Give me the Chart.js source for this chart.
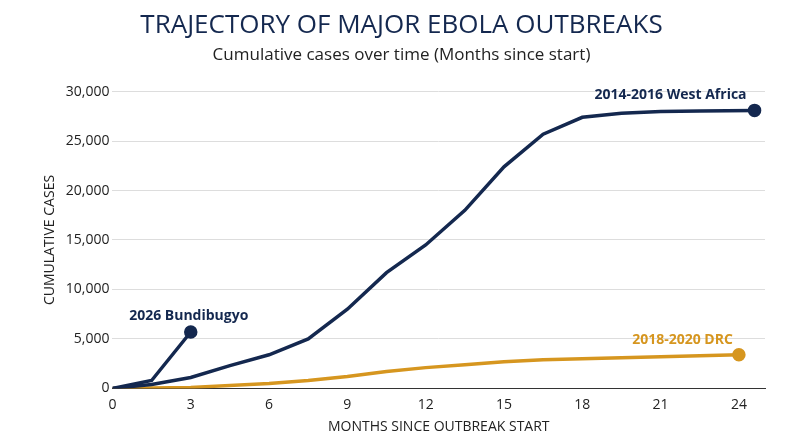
<!DOCTYPE html>
<html><head><meta charset="utf-8">
<script src="https://cdn.jsdelivr.net/npm/chart.js@4/dist/chart.umd.min.js"></script>
<style>html,body{margin:0;padding:0;background:#fff}#w{width:800px;height:447px}</style>
</head><body><div id="w"><canvas id="c" width="800" height="447"></canvas></div>
<script>
const westAfricaMonths=[0,1.5,3,4.5,6,7.5,9,10.5,12,13.5,15,16.5,18,19.5,21,22.5,24.6];
const westAfricaCases=[0,400,1100,2300,3400,5000,8000,11700,14500,18000,22400,25700,27400,27800,28000,28050,28100];
const bundibugyoMonths=[0,1.5,3];
const bundibugyoCases=[0,800,5700];
const drcMonths=[0,3,6,7.5,9,10.5,12,13.5,15,16.5,18,21,24];
const drcCases=[0,100,500,800,1200,1700,2100,2400,2700,2900,3000,3200,3400];
const xTicks=[0,3,6,9,12,15,18,21,24];
const NAVY='#14284f',GOLD='#d6961f';
const pts=(xs,ys)=>xs.map((x,i)=>({x,y:ys[i]}));
const lastOnly=n=>Array.from({length:n},(_,i)=>i===n-1?5:0);
const labels=[
 {ds:0,text:'2014-2016 West Africa',color:NAVY,dx:-8,dy:-15,align:'right'},
 {ds:1,text:'2026 Bundibugyo',color:NAVY,dx:-2,dy:-16,align:'center'},
 {ds:2,text:'2018-2020 DRC',color:GOLD,dx:-6,dy:-15,align:'right'}];
const labelPlugin={id:'lbl',afterDatasetsDraw(ch){const c=ch.ctx;c.save();c.font='bold 14px "Open Sans", sans-serif';c.textBaseline='middle';
 labels.forEach(l=>{const d=ch.data.datasets[l.ds].data;const p=d[d.length-1];
 const x=ch.scales.x.getPixelForValue(p.x),y=ch.scales.y.getPixelForValue(p.y);c.fillStyle=l.color;c.textAlign=l.align;c.fillText(l.text,x+l.dx,y+l.dy);});c.restore();}};
new Chart(document.getElementById('c'),{type:'line',
 data:{datasets:[
  {data:pts(westAfricaMonths,westAfricaCases),borderColor:NAVY,backgroundColor:NAVY,borderWidth:3.5,pointRadius:lastOnly(westAfricaMonths.length),pointHoverRadius:0,tension:0},
  {data:pts(bundibugyoMonths,bundibugyoCases),borderColor:NAVY,backgroundColor:NAVY,borderWidth:3.5,pointRadius:lastOnly(bundibugyoMonths.length),tension:0},
  {data:pts(drcMonths,drcCases),borderColor:GOLD,backgroundColor:GOLD,borderWidth:3.5,pointRadius:lastOnly(drcMonths.length),tension:0}]},
 options:{responsive:false,animation:false,devicePixelRatio:1,
  layout:{padding:{left:38,right:35,top:0,bottom:8}},
  plugins:{legend:{display:false},tooltip:{enabled:false},
   title:{display:true,text:'TRAJECTORY OF MAJOR EBOLA OUTBREAKS',color:NAVY,font:{family:'"Open Sans", sans-serif',size:26,weight:'normal'},padding:{top:10,bottom:2}},
   subtitle:{display:true,text:'Cumulative cases over time (Months since start)',color:'#222',font:{family:'"Open Sans", sans-serif',size:17},padding:{top:2,bottom:26}}},
  scales:{
   x:{type:'linear',min:0,max:25,afterBuildTicks:s=>{s.ticks=xTicks.map(v=>({value:v}));},
    grid:{display:false,drawTicks:true,tickLength:5,color:'#333'},border:{color:'#333'},
    ticks:{color:'#222',font:{family:'"Open Sans", sans-serif',size:14}},
    title:{display:true,text:'MONTHS SINCE OUTBREAK START',color:'#222',font:{family:'"Open Sans", sans-serif',size:14},padding:{top:2}}},
   y:{min:0,max:30000,ticks:{stepSize:5000,color:'#222',font:{family:'"Open Sans", sans-serif',size:14},callback:v=>v.toLocaleString('en-US')},
    grid:{color:'#dddddd',drawTicks:false},border:{display:false},
    title:{display:true,text:'CUMULATIVE CASES',color:'#222',font:{family:'"Open Sans", sans-serif',size:14}}}}},
 plugins:[labelPlugin]});
</script></body></html>
